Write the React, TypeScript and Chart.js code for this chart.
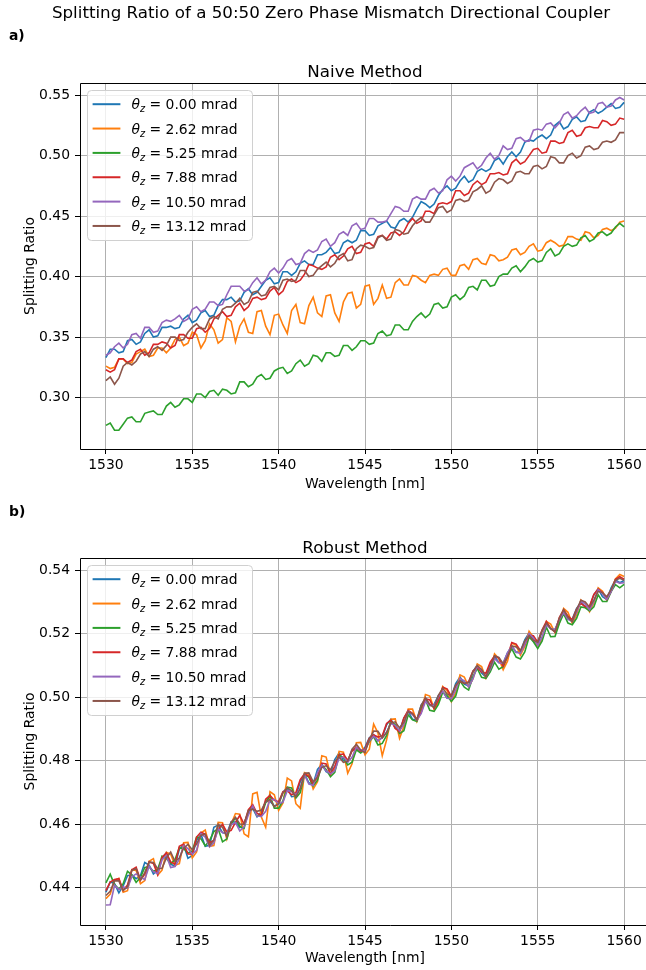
import React, { useEffect, useRef } from 'react';
import { Chart, registerables } from 'chart.js';

Chart.register(...registerables);

const FONT = "'DejaVu Sans', 'Liberation Sans', sans-serif";

const colors = ['#1f77b4', '#ff7f0e', '#2ca02c', '#d62728', '#9467bd', '#8c564b'];
const thetaValues = ['0.00', '2.62', '5.25', '7.88', '10.50', '13.12'];

const xTicks = [1530, 1535, 1540, 1545, 1550, 1555, 1560];
const naiveYTicks = [0.3, 0.35, 0.4, 0.45, 0.5, 0.55];
const robustYTicks = [0.44, 0.46, 0.48, 0.5, 0.52, 0.54];

const wavelengths = [
  1530, 1530.25, 1530.5, 1530.75, 1531, 1531.25, 1531.5, 1531.75,
  1532, 1532.25, 1532.5, 1532.75, 1533, 1533.25, 1533.5, 1533.75,
  1534, 1534.25, 1534.5, 1534.75, 1535, 1535.25, 1535.5, 1535.75,
  1536, 1536.25, 1536.5, 1536.75, 1537, 1537.25, 1537.5, 1537.75,
  1538, 1538.25, 1538.5, 1538.75, 1539, 1539.25, 1539.5, 1539.75,
  1540, 1540.25, 1540.5, 1540.75, 1541, 1541.25, 1541.5, 1541.75,
  1542, 1542.25, 1542.5, 1542.75, 1543, 1543.25, 1543.5, 1543.75,
  1544, 1544.25, 1544.5, 1544.75, 1545, 1545.25, 1545.5, 1545.75,
  1546, 1546.25, 1546.5, 1546.75, 1547, 1547.25, 1547.5, 1547.75,
  1548, 1548.25, 1548.5, 1548.75, 1549, 1549.25, 1549.5, 1549.75,
  1550, 1550.25, 1550.5, 1550.75, 1551, 1551.25, 1551.5, 1551.75,
  1552, 1552.25, 1552.5, 1552.75, 1553, 1553.25, 1553.5, 1553.75,
  1554, 1554.25, 1554.5, 1554.75, 1555, 1555.25, 1555.5, 1555.75,
  1556, 1556.25, 1556.5, 1556.75, 1557, 1557.25, 1557.5, 1557.75,
  1558, 1558.25, 1558.5, 1558.75, 1559, 1559.25, 1559.5, 1559.75,
  1560,
];

// ---- Naive method (splitting ratio) ----
const naive0 = [
  0.333, 0.340, 0.340, 0.337, 0.338, 0.347, 0.348, 0.344, 0.346, 0.353,
  0.356, 0.350, 0.351, 0.358, 0.358, 0.359, 0.357, 0.358, 0.365, 0.368,
  0.362, 0.364, 0.370, 0.372, 0.367, 0.368, 0.376, 0.381, 0.381, 0.383,
  0.379, 0.380, 0.387, 0.390, 0.385, 0.387, 0.392, 0.397, 0.399, 0.394,
  0.395, 0.404, 0.404, 0.401, 0.404, 0.411, 0.413, 0.410, 0.410, 0.418,
  0.418, 0.420, 0.424, 0.419, 0.420, 0.428, 0.430, 0.428, 0.430, 0.438,
  0.438, 0.434, 0.435, 0.442, 0.444, 0.446, 0.441, 0.440, 0.446, 0.448,
  0.445, 0.449, 0.456, 0.462, 0.460, 0.457, 0.460, 0.467, 0.472, 0.475,
  0.471, 0.473, 0.479, 0.483, 0.478, 0.480, 0.487, 0.489, 0.487, 0.489,
  0.496, 0.498, 0.493, 0.499, 0.503, 0.499, 0.503, 0.511, 0.513, 0.512,
  0.515, 0.517, 0.514, 0.517, 0.525, 0.528, 0.522, 0.524, 0.530, 0.532,
  0.528, 0.529, 0.536, 0.538, 0.535, 0.537, 0.540, 0.543, 0.539, 0.540,
  0.544,
];
const naive1 = [
  0.326, 0.324, 0.325, 0.332, 0.332, 0.328, 0.329, 0.336, 0.338, 0.340,
  0.334, 0.335, 0.341, 0.341, 0.337, 0.341, 0.348, 0.350, 0.343, 0.345,
  0.354, 0.352, 0.341, 0.347, 0.361, 0.356, 0.345, 0.348, 0.366, 0.363,
  0.346, 0.359, 0.365, 0.354, 0.353, 0.371, 0.372, 0.359, 0.352, 0.368,
  0.369, 0.360, 0.353, 0.372, 0.377, 0.362, 0.361, 0.376, 0.383, 0.370,
  0.367, 0.384, 0.385, 0.370, 0.363, 0.379, 0.386, 0.387, 0.374, 0.377,
  0.392, 0.393, 0.377, 0.382, 0.393, 0.382, 0.383, 0.395, 0.398, 0.393,
  0.393, 0.401, 0.400, 0.397, 0.395, 0.401, 0.402, 0.401, 0.406, 0.407,
  0.401, 0.401, 0.409, 0.410, 0.406, 0.414, 0.415, 0.411, 0.410, 0.418,
  0.417, 0.413, 0.414, 0.416, 0.422, 0.423, 0.418, 0.420, 0.425, 0.427,
  0.421, 0.422, 0.428, 0.430, 0.428, 0.425, 0.426, 0.433, 0.433, 0.431,
  0.430, 0.437, 0.436, 0.432, 0.434, 0.439, 0.440, 0.438, 0.440, 0.445,
  0.446,
];
const naive2 = [
  0.277, 0.279, 0.273, 0.273, 0.278, 0.283, 0.284, 0.280, 0.280, 0.287,
  0.288, 0.289, 0.286, 0.286, 0.293, 0.296, 0.292, 0.294, 0.299, 0.299,
  0.296, 0.303, 0.303, 0.300, 0.305, 0.306, 0.302, 0.307, 0.306, 0.303,
  0.304, 0.313, 0.313, 0.309, 0.311, 0.317, 0.319, 0.315, 0.316, 0.322,
  0.324, 0.325, 0.320, 0.322, 0.328, 0.331, 0.326, 0.328, 0.335, 0.334,
  0.330, 0.337, 0.337, 0.334, 0.335, 0.343, 0.343, 0.339, 0.342, 0.347,
  0.347, 0.344, 0.345, 0.353, 0.355, 0.351, 0.352, 0.360, 0.360, 0.356,
  0.356, 0.363, 0.367, 0.370, 0.366, 0.369, 0.377, 0.378, 0.374, 0.375,
  0.383, 0.385, 0.381, 0.384, 0.391, 0.392, 0.389, 0.397, 0.397, 0.392,
  0.393, 0.400, 0.402, 0.402, 0.407, 0.409, 0.404, 0.408, 0.413, 0.415,
  0.412, 0.413, 0.420, 0.423, 0.417, 0.419, 0.425, 0.427, 0.425, 0.426,
  0.432, 0.434, 0.429, 0.431, 0.436, 0.437, 0.434, 0.436, 0.441, 0.444,
  0.441,
];
const naive3 = [
  0.323, 0.321, 0.323, 0.332, 0.332, 0.329, 0.331, 0.338, 0.340, 0.335,
  0.337, 0.344, 0.344, 0.346, 0.345, 0.341, 0.343, 0.352, 0.352, 0.349,
  0.349, 0.357, 0.358, 0.354, 0.357, 0.365, 0.368, 0.371, 0.367, 0.368,
  0.375, 0.378, 0.372, 0.375, 0.382, 0.383, 0.381, 0.382, 0.388, 0.391,
  0.385, 0.388, 0.396, 0.398, 0.395, 0.397, 0.402, 0.410, 0.409, 0.407,
  0.406, 0.408, 0.416, 0.418, 0.414, 0.417, 0.423, 0.425, 0.419, 0.420,
  0.427, 0.428, 0.425, 0.433, 0.434, 0.431, 0.436, 0.437, 0.434, 0.437,
  0.444, 0.448, 0.444, 0.446, 0.454, 0.454, 0.452, 0.460, 0.461, 0.460,
  0.462, 0.471, 0.471, 0.467, 0.469, 0.476, 0.479, 0.476, 0.478, 0.485,
  0.485, 0.486, 0.484, 0.485, 0.494, 0.497, 0.493, 0.495, 0.500, 0.505,
  0.506, 0.502, 0.503, 0.512, 0.512, 0.510, 0.511, 0.519, 0.521, 0.516,
  0.517, 0.523, 0.524, 0.523, 0.523, 0.529, 0.528, 0.525, 0.526, 0.531,
  0.530,
];
const naive4 = [
  0.335, 0.337, 0.342, 0.345, 0.341, 0.344, 0.352, 0.353, 0.349, 0.358,
  0.358, 0.354, 0.355, 0.362, 0.364, 0.363, 0.365, 0.368, 0.363, 0.365,
  0.373, 0.375, 0.371, 0.373, 0.379, 0.379, 0.376, 0.377, 0.385, 0.392,
  0.392, 0.392, 0.388, 0.389, 0.395, 0.399, 0.394, 0.397, 0.404, 0.407,
  0.403, 0.407, 0.413, 0.415, 0.410, 0.411, 0.419, 0.422, 0.420, 0.422,
  0.429, 0.431, 0.425, 0.428, 0.435, 0.437, 0.434, 0.442, 0.444, 0.439,
  0.440, 0.448, 0.448, 0.445, 0.445, 0.446, 0.452, 0.458, 0.457, 0.454,
  0.454, 0.464, 0.466, 0.464, 0.464, 0.471, 0.473, 0.469, 0.471, 0.480,
  0.483, 0.479, 0.483, 0.490, 0.492, 0.494, 0.489, 0.492, 0.498, 0.502,
  0.497, 0.500, 0.508, 0.505, 0.506, 0.514, 0.515, 0.512, 0.512, 0.521,
  0.522, 0.521, 0.526, 0.527, 0.523, 0.527, 0.534, 0.536, 0.531, 0.533,
  0.537, 0.540, 0.535, 0.536, 0.543, 0.544, 0.540, 0.541, 0.546, 0.548,
  0.546,
];
const naive5 = [
  0.314, 0.317, 0.311, 0.316, 0.326, 0.329, 0.327, 0.330, 0.336, 0.338,
  0.334, 0.340, 0.342, 0.339, 0.343, 0.350, 0.350, 0.347, 0.348, 0.354,
  0.358, 0.361, 0.357, 0.357, 0.365, 0.367, 0.365, 0.373, 0.375, 0.375,
  0.378, 0.382, 0.377, 0.379, 0.387, 0.388, 0.384, 0.385, 0.391, 0.392,
  0.389, 0.397, 0.398, 0.396, 0.397, 0.405, 0.405, 0.400, 0.401, 0.406,
  0.409, 0.412, 0.408, 0.411, 0.417, 0.419, 0.413, 0.414, 0.423, 0.426,
  0.425, 0.423, 0.424, 0.432, 0.434, 0.430, 0.431, 0.439, 0.438, 0.435,
  0.436, 0.442, 0.446, 0.449, 0.445, 0.445, 0.451, 0.457, 0.458, 0.453,
  0.455, 0.463, 0.464, 0.462, 0.463, 0.470, 0.472, 0.475, 0.469, 0.471,
  0.478, 0.481, 0.480, 0.477, 0.479, 0.486, 0.487, 0.485, 0.485, 0.491,
  0.492, 0.489, 0.491, 0.499, 0.498, 0.494, 0.494, 0.500, 0.502, 0.498,
  0.500, 0.507, 0.508, 0.505, 0.506, 0.511, 0.512, 0.511, 0.513, 0.519,
  0.519,
];

// ---- Robust method (splitting ratio) ----
const robust0 = [
  0.4385, 0.4418, 0.4412, 0.4383, 0.4405, 0.4437, 0.4440, 0.4428, 0.4437, 0.4479,
  0.4471, 0.4443, 0.4455, 0.4492, 0.4509, 0.4473, 0.4468, 0.4521, 0.4534, 0.4492,
  0.4501, 0.4549, 0.4568, 0.4530, 0.4533, 0.4590, 0.4597, 0.4573, 0.4569, 0.4607,
  0.4606, 0.4589, 0.4603, 0.4636, 0.4649, 0.4623, 0.4638, 0.4670, 0.4672, 0.4657,
  0.4663, 0.4700, 0.4714, 0.4686, 0.4688, 0.4733, 0.4758, 0.4730, 0.4726, 0.4772,
  0.4788, 0.4765, 0.4758, 0.4803, 0.4824, 0.4800, 0.4796, 0.4833, 0.4840, 0.4829,
  0.4842, 0.4872, 0.4882, 0.4862, 0.4873, 0.4913, 0.4930, 0.4903, 0.4893, 0.4934,
  0.4956, 0.4930, 0.4928, 0.4975, 0.4993, 0.4975, 0.4977, 0.5005, 0.5017, 0.4997,
  0.5002, 0.5042, 0.5063, 0.5041, 0.5035, 0.5080, 0.5101, 0.5076, 0.5063, 0.5105,
  0.5128, 0.5109, 0.5107, 0.5139, 0.5160, 0.5141, 0.5143, 0.5180, 0.5202, 0.5176,
  0.5162, 0.5208, 0.5234, 0.5215, 0.5212, 0.5244, 0.5264, 0.5245, 0.5246, 0.5279,
  0.5297, 0.5284, 0.5283, 0.5322, 0.5341, 0.5316, 0.5307, 0.5344, 0.5369, 0.5360,
  0.5367,
];
const robust1 = [
  0.4365, 0.4379, 0.4423, 0.4429, 0.4385, 0.4390, 0.4456, 0.4454, 0.4412, 0.4422,
  0.4483, 0.4491, 0.4439, 0.4455, 0.4511, 0.4505, 0.4470, 0.4475, 0.4541, 0.4542,
  0.4493, 0.4512, 0.4572, 0.4581, 0.4530, 0.4532, 0.4605, 0.4604, 0.4553, 0.4600,
  0.4633, 0.4631, 0.4569, 0.4560, 0.4695, 0.4700, 0.4622, 0.4590, 0.4702, 0.4692,
  0.4643, 0.4666, 0.4745, 0.4736, 0.4664, 0.4650, 0.4762, 0.4756, 0.4710, 0.4733,
  0.4815, 0.4811, 0.4755, 0.4772, 0.4829, 0.4826, 0.4760, 0.4790, 0.4856, 0.4857,
  0.4818, 0.4836, 0.4915, 0.4887, 0.4815, 0.4865, 0.4930, 0.4931, 0.4870, 0.4907,
  0.4962, 0.4962, 0.4923, 0.4953, 0.5008, 0.5003, 0.4962, 0.4982, 0.5033, 0.5021,
  0.4986, 0.5013, 0.5070, 0.5063, 0.5032, 0.5058, 0.5104, 0.5096, 0.5059, 0.5085,
  0.5136, 0.5121, 0.5086, 0.5113, 0.5170, 0.5163, 0.5132, 0.5159, 0.5207, 0.5189,
  0.5156, 0.5185, 0.5238, 0.5230, 0.5203, 0.5233, 0.5279, 0.5267, 0.5232, 0.5259,
  0.5306, 0.5295, 0.5269, 0.5296, 0.5344, 0.5333, 0.5306, 0.5333, 0.5372, 0.5386,
  0.5380,
];
const robust2 = [
  0.4415, 0.4442, 0.4409, 0.4395, 0.4412, 0.4451, 0.4440, 0.4416, 0.4432, 0.4463,
  0.4465, 0.4451, 0.4457, 0.4499, 0.4492, 0.4475, 0.4488, 0.4525, 0.4523, 0.4509,
  0.4515, 0.4559, 0.4554, 0.4531, 0.4548, 0.4576, 0.4585, 0.4544, 0.4553, 0.4601,
  0.4619, 0.4592, 0.4586, 0.4641, 0.4656, 0.4626, 0.4626, 0.4668, 0.4690, 0.4650,
  0.4650, 0.4673, 0.4716, 0.4714, 0.4682, 0.4699, 0.4756, 0.4748, 0.4720, 0.4738,
  0.4786, 0.4772, 0.4749, 0.4763, 0.4817, 0.4809, 0.4786, 0.4795, 0.4834, 0.4824,
  0.4835, 0.4860, 0.4875, 0.4849, 0.4854, 0.4879, 0.4925, 0.4913, 0.4885, 0.4894,
  0.4944, 0.4928, 0.4923, 0.4967, 0.4992, 0.4958, 0.4955, 0.4977, 0.5015, 0.5005,
  0.4986, 0.5003, 0.5051, 0.5031, 0.5022, 0.5064, 0.5090, 0.5062, 0.5059, 0.5079,
  0.5110, 0.5088, 0.5096, 0.5129, 0.5152, 0.5126, 0.5120, 0.5142, 0.5189, 0.5174,
  0.5153, 0.5176, 0.5220, 0.5190, 0.5191, 0.5232, 0.5263, 0.5233, 0.5228, 0.5248,
  0.5284, 0.5281, 0.5271, 0.5284, 0.5322, 0.5301, 0.5301, 0.5332, 0.5354, 0.5344,
  0.5355,
];
const robust3 = [
  0.4390, 0.4417, 0.4425, 0.4428, 0.4391, 0.4408, 0.4456, 0.4464, 0.4423, 0.4442,
  0.4481, 0.4476, 0.4441, 0.4495, 0.4509, 0.4481, 0.4473, 0.4530, 0.4537, 0.4506,
  0.4505, 0.4559, 0.4574, 0.4568, 0.4542, 0.4548, 0.4584, 0.4599, 0.4575, 0.4580,
  0.4605, 0.4627, 0.4600, 0.4645, 0.4661, 0.4634, 0.4627, 0.4678, 0.4690, 0.4675,
  0.4670, 0.4702, 0.4705, 0.4692, 0.4699, 0.4740, 0.4758, 0.4750, 0.4726, 0.4749,
  0.4792, 0.4789, 0.4757, 0.4782, 0.4818, 0.4821, 0.4800, 0.4830, 0.4841, 0.4830,
  0.4836, 0.4870, 0.4881, 0.4874, 0.4878, 0.4917, 0.4927, 0.4901, 0.4891, 0.4934,
  0.4958, 0.4949, 0.4930, 0.4952, 0.4995, 0.4991, 0.4964, 0.4991, 0.5031, 0.5026,
  0.5002, 0.5034, 0.5050, 0.5043, 0.5048, 0.5082, 0.5093, 0.5079, 0.5075, 0.5110,
  0.5129, 0.5123, 0.5097, 0.5128, 0.5172, 0.5167, 0.5146, 0.5165, 0.5194, 0.5193,
  0.5173, 0.5211, 0.5238, 0.5216, 0.5205, 0.5250, 0.5275, 0.5255, 0.5243, 0.5277,
  0.5295, 0.5285, 0.5287, 0.5323, 0.5340, 0.5329, 0.5308, 0.5335, 0.5371, 0.5379,
  0.5371,
];
const robust4 = [
  0.4345, 0.4346, 0.4407, 0.4394, 0.4402, 0.4398, 0.4434, 0.4443, 0.4433, 0.4425,
  0.4467, 0.4450, 0.4444, 0.4487, 0.4501, 0.4463, 0.4466, 0.4489, 0.4532, 0.4523,
  0.4505, 0.4517, 0.4570, 0.4559, 0.4528, 0.4541, 0.4585, 0.4573, 0.4571, 0.4598,
  0.4605, 0.4578, 0.4591, 0.4629, 0.4657, 0.4625, 0.4624, 0.4640, 0.4676, 0.4678,
  0.4664, 0.4669, 0.4705, 0.4703, 0.4691, 0.4713, 0.4755, 0.4726, 0.4722, 0.4762,
  0.4786, 0.4767, 0.4758, 0.4768, 0.4808, 0.4811, 0.4795, 0.4810, 0.4842, 0.4832,
  0.4832, 0.4862, 0.4877, 0.4862, 0.4872, 0.4889, 0.4917, 0.4911, 0.4894, 0.4914,
  0.4955, 0.4945, 0.4927, 0.4948, 0.4986, 0.4973, 0.4973, 0.5000, 0.5018, 0.4996,
  0.4995, 0.5023, 0.5059, 0.5051, 0.5032, 0.5057, 0.5098, 0.5084, 0.5065, 0.5087,
  0.5121, 0.5108, 0.5106, 0.5139, 0.5160, 0.5141, 0.5138, 0.5166, 0.5200, 0.5186,
  0.5163, 0.5189, 0.5227, 0.5216, 0.5213, 0.5244, 0.5265, 0.5245, 0.5238, 0.5267,
  0.5303, 0.5293, 0.5275, 0.5301, 0.5338, 0.5326, 0.5308, 0.5332, 0.5364, 0.5359,
  0.5360,
];
const robust5 = [
  0.4375, 0.4388, 0.4421, 0.4421, 0.4391, 0.4402, 0.4454, 0.4459, 0.4424, 0.4447,
  0.4480, 0.4479, 0.4459, 0.4461, 0.4493, 0.4512, 0.4482, 0.4493, 0.4524, 0.4536,
  0.4519, 0.4537, 0.4565, 0.4568, 0.4532, 0.4550, 0.4599, 0.4590, 0.4561, 0.4606,
  0.4621, 0.4600, 0.4599, 0.4643, 0.4647, 0.4640, 0.4644, 0.4670, 0.4677, 0.4655,
  0.4664, 0.4699, 0.4715, 0.4705, 0.4686, 0.4711, 0.4760, 0.4761, 0.4733, 0.4747,
  0.4778, 0.4784, 0.4771, 0.4797, 0.4811, 0.4794, 0.4798, 0.4836, 0.4851, 0.4833,
  0.4825, 0.4867, 0.4893, 0.4892, 0.4871, 0.4888, 0.4918, 0.4922, 0.4903, 0.4920,
  0.4954, 0.4947, 0.4928, 0.4973, 0.4998, 0.4977, 0.4967, 0.5005, 0.5028, 0.5010,
  0.5004, 0.5037, 0.5051, 0.5043, 0.5046, 0.5080, 0.5099, 0.5087, 0.5064, 0.5093,
  0.5130, 0.5125, 0.5105, 0.5127, 0.5161, 0.5158, 0.5146, 0.5177, 0.5193, 0.5179,
  0.5173, 0.5209, 0.5233, 0.5216, 0.5205, 0.5248, 0.5275, 0.5251, 0.5237, 0.5275,
  0.5305, 0.5300, 0.5283, 0.5305, 0.5333, 0.5329, 0.5316, 0.5338, 0.5368, 0.5374,
  0.5368,
];

const naiveSeries = [naive0, naive1, naive2, naive3, naive4, naive5];
const robustSeries = [robust0, robust1, robust2, robust3, robust4, robust5];

const TICK_SIZE = 13.9;

const framePlugin = {
  id: 'mplFrameLegend',
  afterDatasetsDraw(chart: any) {
    const { ctx, chartArea } = chart;
    const l = Math.round(chartArea.left) + 0.5;
    const t = Math.round(chartArea.top) + 0.5;
    const b = Math.round(chartArea.bottom) + 0.5;
    ctx.save();
    ctx.strokeStyle = '#000';
    ctx.lineWidth = 1;
    ctx.beginPath();
    ctx.moveTo(l, b);
    ctx.lineTo(l, t);
    ctx.lineTo(chart.width, t);
    ctx.moveTo(l, b);
    ctx.lineTo(chart.width, b);
    ctx.stroke();

    const x0 = chartArea.left + 7;
    const y0 = chartArea.top + 7;
    const fontMain = `${TICK_SIZE}px ${FONT}`;
    const fontIt = `italic ${TICK_SIZE}px ${FONT}`;
    const fontSub = `italic 9.7px ${FONT}`;
    let maxW = 0;
    thetaValues.forEach((v) => {
      ctx.font = fontIt;
      let w = ctx.measureText('\u03b8').width;
      ctx.font = fontSub;
      w += ctx.measureText('z').width;
      ctx.font = fontMain;
      w += ctx.measureText(` = ${v} mrad`).width;
      if (w > maxW) maxW = w;
    });
    const textX = x0 + 5.6 + 27.8 + 11.1;
    const boxW = textX + maxW + 5.6 - x0;
    const rowH = 24.35;
    const boxH = 5.6 * 2 + rowH * 5 + 17.5;
    const rad = 4;
    const bx = Math.round(x0) + 0.5;
    const by = Math.round(y0) + 0.5;
    const bw = Math.round(boxW);
    const bh = Math.round(boxH);
    ctx.beginPath();
    ctx.moveTo(bx + rad, by);
    ctx.lineTo(bx + bw - rad, by);
    ctx.arcTo(bx + bw, by, bx + bw, by + rad, rad);
    ctx.lineTo(bx + bw, by + bh - rad);
    ctx.arcTo(bx + bw, by + bh, bx + bw - rad, by + bh, rad);
    ctx.lineTo(bx + rad, by + bh);
    ctx.arcTo(bx, by + bh, bx, by + bh - rad, rad);
    ctx.lineTo(bx, by + rad);
    ctx.arcTo(bx, by, bx + rad, by, rad);
    ctx.closePath();
    ctx.fillStyle = 'rgba(255,255,255,0.8)';
    ctx.fill();
    ctx.strokeStyle = '#d0d0d0';
    ctx.stroke();

    thetaValues.forEach((v, i) => {
      const cy = y0 + 5.6 + 8.6 + i * rowH;
      ctx.beginPath();
      ctx.strokeStyle = colors[i];
      ctx.lineWidth = 2;
      ctx.moveTo(x0 + 5.6, cy);
      ctx.lineTo(x0 + 5.6 + 27.8, cy);
      ctx.stroke();
      ctx.fillStyle = '#000';
      ctx.textBaseline = 'alphabetic';
      ctx.textAlign = 'left';
      const base = cy + 5;
      let x = textX;
      ctx.font = fontIt;
      ctx.fillText('\u03b8', x, base);
      x += ctx.measureText('\u03b8').width;
      ctx.font = fontSub;
      ctx.fillText('z', x, base + 3);
      x += ctx.measureText('z').width;
      ctx.font = fontMain;
      ctx.fillText(` = ${v} mrad`, x, base);
    });
    ctx.restore();
  },
};

type PanelProps = {
  top: number;
  height: number;
  series: number[][];
  yMin: number;
  yMax: number;
  yTicks: number[];
  padTop: number;
  padBottom: number;
  xAxisHeight: number;
  xTitlePad: number;
};

const CANVAS_W = 700;

function Panel(props: PanelProps) {
  const ref = useRef<HTMLCanvasElement | null>(null);
  useEffect(() => {
    if (!ref.current) return;
    const datasets = props.series.map((arr, i) => ({
      label: `\u03b8z = ${thetaValues[i]} mrad`,
      data: arr.map((y, j) => ({ x: wavelengths[j], y })),
      borderColor: colors[i],
      backgroundColor: colors[i],
      borderWidth: 1.6,
      pointRadius: 0,
      tension: 0,
      fill: false,
      order: 5 - i,
    }));
    const tickFont = { size: TICK_SIZE, family: FONT };
    const chart = new Chart(ref.current, {
      type: 'line',
      data: { datasets },
      plugins: [framePlugin],
      options: {
        responsive: false,
        animation: false,
        events: [],
        layout: { padding: { left: 0, right: CANVAS_W - 650, top: props.padTop, bottom: props.padBottom } },
        plugins: {
          legend: { display: false },
          title: { display: false },
          tooltip: { enabled: false },
        },
        scales: {
          x: {
            type: 'linear',
            min: 1528.5,
            max: 1561.5,
            afterBuildTicks: (s: any) => {
              s.ticks = xTicks.map((v) => ({ value: v }));
            },
            afterFit: (s: any) => {
              s.height = props.xAxisHeight;
            },
            grid: { color: '#b0b0b0', lineWidth: 1, tickColor: '#000', tickLength: 5, tickWidth: 1 },
            border: { display: false },
            ticks: {
              color: '#000',
              font: tickFont,
              padding: 3,
              maxRotation: 0,
              autoSkip: false,
              callback: (v: any) => String(v),
            },
            title: {
              display: true,
              text: 'Wavelength [nm]',
              color: '#000',
              font: tickFont,
              padding: { top: 0, bottom: props.xTitlePad },
            },
          },
          y: {
            type: 'linear',
            min: props.yMin,
            max: props.yMax,
            afterBuildTicks: (s: any) => {
              s.ticks = props.yTicks.map((v) => ({ value: v }));
            },
            afterFit: (s: any) => {
              s.width = 80;
            },
            grid: { color: '#b0b0b0', lineWidth: 1, tickColor: '#000', tickLength: 5, tickWidth: 1 },
            border: { display: false },
            ticks: {
              color: '#000',
              font: tickFont,
              padding: 5,
              callback: (v: any) => Number(v).toFixed(2),
            },
            title: {
              display: true,
              text: 'Splitting Ratio',
              color: '#000',
              font: tickFont,
              padding: { top: 21.7, bottom: 0 },
            },
          },
        },
      } as any,
    });
    return () => chart.destroy();
  }, []);
  return (
    <canvas
      ref={ref}
      width={CANVAS_W}
      height={props.height}
      style={{ position: 'absolute', left: 0, top: props.top, width: CANVAS_W, height: props.height }}
    />
  );
}

const textBase: React.CSSProperties = {
  position: 'absolute',
  fontFamily: FONT,
  color: '#000',
  whiteSpace: 'nowrap',
};

export default function App() {
  return (
    <div
      style={{
        position: 'absolute',
        left: 0,
        top: 0,
        width: 646,
        height: 970,
        overflow: 'hidden',
        background: '#fff',
      }}
    >
      <Panel
        top={0}
        height={500}
        series={naiveSeries}
        yMin={0.2575}
        yMax={0.56}
        yTicks={naiveYTicks}
        padTop={83}
        padBottom={1}
        xAxisHeight={50}
        xTitlePad={6.7}
      />
      <Panel
        top={480}
        height={490}
        series={robustSeries}
        yMin={0.4282}
        yMax={0.5438}
        yTicks={robustYTicks}
        padTop={78}
        padBottom={0}
        xAxisHeight={45}
        xTitlePad={3.7}
      />
      <div style={{ ...textBase, left: 0, top: 2, width: 662, textAlign: 'center', fontSize: 16.7, lineHeight: '20px' }}>
        Splitting Ratio of a 50:50 Zero Phase Mismatch Directional Coupler
      </div>
      <div style={{ ...textBase, left: 9, top: 26, fontSize: 13.9, fontWeight: 'bold', lineHeight: '18px' }}>a)</div>
      <div style={{ ...textBase, left: 80, top: 61, width: 570, textAlign: 'center', fontSize: 16.7, lineHeight: '20px' }}>
        Naive Method
      </div>
      <div style={{ ...textBase, left: 9, top: 502, fontSize: 13.9, fontWeight: 'bold', lineHeight: '18px' }}>b)</div>
      <div style={{ ...textBase, left: 80, top: 537, width: 570, textAlign: 'center', fontSize: 16.7, lineHeight: '20px' }}>
        Robust Method
      </div>
    </div>
  );
}
